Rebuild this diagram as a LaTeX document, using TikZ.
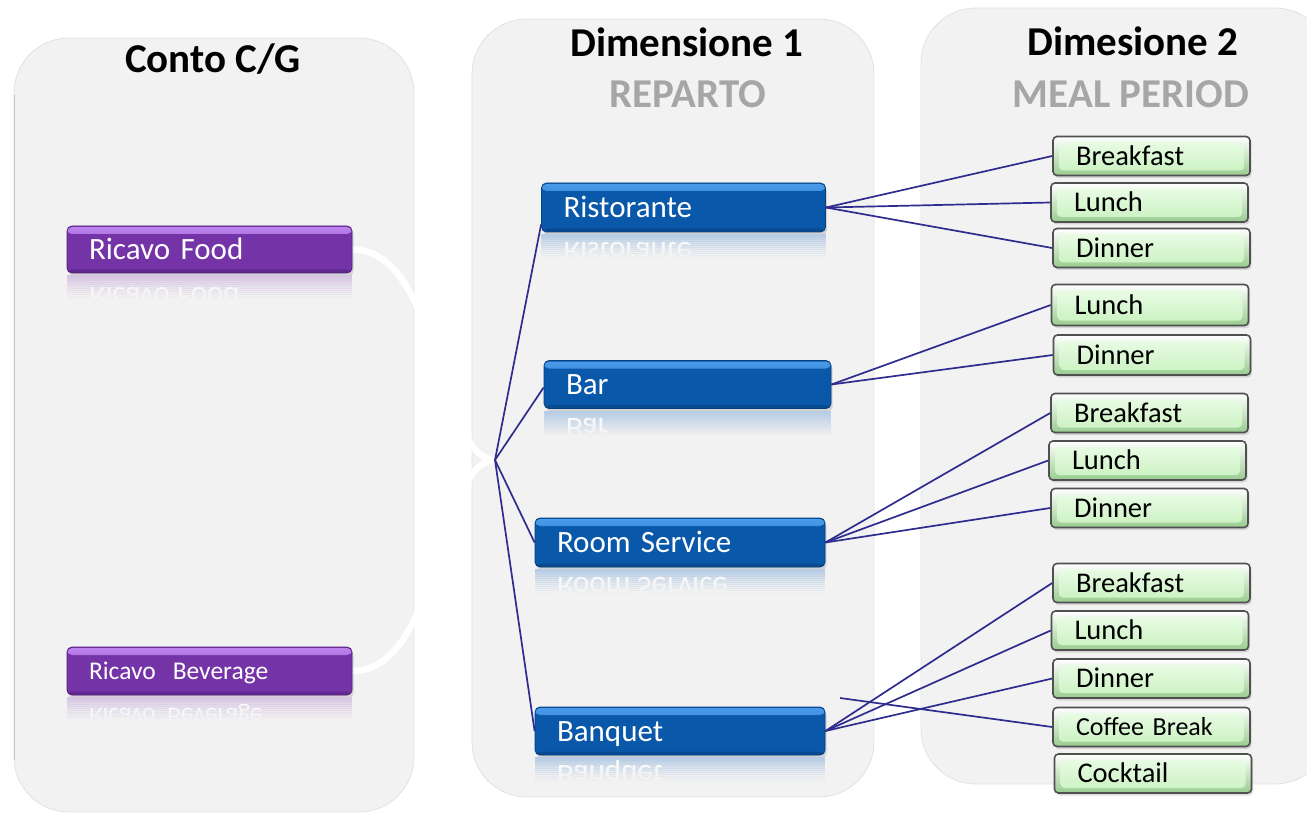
\documentclass[tikz,border=0pt]{standalone}
\usepackage{fontspec}
\setmainfont{Carlito}
\usetikzlibrary{shadows,calc}

\definecolor{panelgray}{HTML}{F2F2F2}
\definecolor{panelline}{HTML}{E2E2E2}
\definecolor{paneledge}{HTML}{C4C4C4}
\definecolor{linkblue}{HTML}{2E2C8E}
\definecolor{headgray}{HTML}{A6A6A6}
\definecolor{boxblue}{HTML}{0A58A9}
\definecolor{boxbluehi}{HTML}{4C9CEC}
\definecolor{boxbluelo}{HTML}{06417F}
\definecolor{reflblue}{HTML}{B6CCE4}
\definecolor{boxpurple}{HTML}{7434A8}
\definecolor{boxpurplehi}{HTML}{BE85F0}
\definecolor{boxpurplelo}{HTML}{55207F}
\definecolor{reflpurple}{HTML}{D6C6E2}
\definecolor{boxgreen}{HTML}{C8F1BF}
\definecolor{boxgreenhi}{HTML}{EEFDEA}
\definecolor{boxgreenlo}{HTML}{98CC8E}
\definecolor{boxgreenline}{HTML}{505050}

\pgfdeclarelayer{panels}
\pgfdeclarelayer{links}
\pgfsetlayers{panels,links,main}

% mirrored, fading copy of a box below it: node, text, font size, tint, gap
\newcommand\mkreflect[5]{%
  \begin{scope}
    \clip ([yshift=-2pt]#1.south west) rectangle ([yshift=-31pt]#1.south east);
    \fill[#4] ([yshift=-2pt]#1.south west) rectangle ([yshift=-31pt]#1.south east);
    \node[font=\fontsize{#3}{#3}\selectfont, text=white, anchor=base west,
          yscale=-1, inner sep=0pt] at ([xshift=22pt,yshift=-#5]#1.south west) {#2};
    \foreach \k in {0,...,12}{
      \pgfmathsetmacro\op{\k/12}
      \pgfmathsetmacro\ya{-(2+2*\k)}
      \pgfmathsetmacro\yb{-(4.4+2*\k)}
      \fill[panelgray, opacity=\op] ([yshift=\ya pt]#1.south west) rectangle ([yshift=\yb pt]#1.south east);
    }
    \fill[panelgray] ([yshift=-26pt]#1.south west) rectangle ([yshift=-33pt]#1.south east);
  \end{scope}}

\tikzset{
  panel/.style={fill=panelgray, draw=panelline, line width=0.8pt, rounded corners=55pt},
  headblack/.style={font=\bfseries\fontsize{41}{44}\selectfont, anchor=base, inner sep=0pt},
  headgrey/.style={headblack, text=headgray},
  barbox/.style={rounded corners=5pt, align=left, inner xsep=22pt, inner ysep=0pt,
    text depth=0pt, anchor=center,
    drop shadow={shadow xshift=1.5pt, shadow yshift=-3pt, opacity=0.28}},
  bluebox/.style={barbox, fill=boxblue, draw=boxbluelo, line width=0.8pt, text=white,
    font=\fontsize{31}{36}\selectfont, text height=20pt,
    path picture={
      \shade[top color=boxbluehi, bottom color=boxblue]
        ([yshift=-1pt]path picture bounding box.north west) rectangle ([yshift=-8pt]path picture bounding box.north east);
      \fill[boxbluelo, opacity=0.6]
        ([yshift=3.5pt]path picture bounding box.south west) rectangle (path picture bounding box.south east);}},
  purplebox/.style={barbox, fill=boxpurple, draw=boxpurplelo, line width=0.8pt, text=white,
    font=\fontsize{31}{36}\selectfont, text height=20pt,
    path picture={
      \shade[top color=boxpurplehi, bottom color=boxpurple]
        ([yshift=-1pt]path picture bounding box.north west) rectangle ([yshift=-8pt]path picture bounding box.north east);
      \fill[boxpurplelo, opacity=0.6]
        ([yshift=3.5pt]path picture bounding box.south west) rectangle (path picture bounding box.south east);}},
  greenbox/.style={rounded corners=4pt, align=left, inner xsep=23pt, inner ysep=0pt,
    text depth=0pt, text height=18.4pt, text width=151pt, minimum height=39pt,
    draw=boxgreenline, line width=1.6pt, top color=white, bottom color=boxgreenlo,
    text=black, font=\fontsize{28.5}{32}\selectfont,
    drop shadow={shadow xshift=1.5pt, shadow yshift=-2.5pt, opacity=0.25},
    path picture={
      \shade[top color=boxgreenhi, bottom color=boxgreen]
        ([xshift=6pt,yshift=-6pt]path picture bounding box.north west) rectangle ([xshift=-6pt,yshift=5pt]path picture bounding box.south east);}},
  link/.style={draw=linkblue, line width=1.7pt},
  brace/.style={draw=white, line width=6.5pt}
}

\begin{document}
\begin{tikzpicture}[x=1pt, y=-1pt]
\useasboundingbox (0,0) rectangle (1307,813);

% the three column panels
\begin{pgfonlayer}{panels}
  \path[panel] (14,38) rectangle (414,812);
  \path[panel] (472,19) rectangle (874,797);
  \path[panel] (921,8) rectangle (1330,784);
  \draw[paneledge, line width=1pt] (14,95) -- (14,760);
\end{pgfonlayer}

% column titles
\node[headblack] (t1) at (213,72.5) {Conto C/G};
\node[headblack] (t2) at (687,57) {Dimensione 1};
\node[headgrey]  (s2) at (688,108) {REPARTO};
\node[headblack] (t3) at (1133,56) {Dimesione 2};
\node[headgrey]  (s3) at (1131,108) {MEAL PERIOD};

% general ledger accounts
\node[purplebox, text width=241pt, minimum height=47pt] (food) at (209.5,249.5) {Ricavo Food};
\node[purplebox, text width=241pt, minimum height=48pt,
      font=\fontsize{25.5}{30}\selectfont, text height=16.4pt] (bev) at (209.5,671) {Ricavo\ \ Beverage};

% departments
\node[bluebox, text width=240pt, minimum height=49pt] (ris)  at (683.5,207.5) {Ristorante};
\node[bluebox, text width=243pt, minimum height=48pt] (bar)  at (687.5,384.5) {Bar};
\node[bluebox, text width=246pt, minimum height=49pt] (rs)   at (680,542.5) {Room Service};
\node[bluebox, text width=246pt, minimum height=48pt] (banq) at (680,731) {Banquet};

% meal periods
\node[greenbox] (g1bf) at (1151.5,156)   {Breakfast};
\node[greenbox] (g1lu) at (1149.5,202.5) {Lunch};
\node[greenbox] (g1di) at (1151.5,248)   {Dinner};
\node[greenbox, minimum height=41pt] (g2lu) at (1150,305) {Lunch};
\node[greenbox, minimum height=40pt] (g2di) at (1152,355) {Dinner};
\node[greenbox] (g3bf) at (1149.5,413)   {Breakfast};
\node[greenbox] (g3lu) at (1147.5,460.5) {Lunch};
\node[greenbox] (g3di) at (1149.5,508)   {Dinner};
\node[greenbox] (g4bf) at (1151.5,583)   {Breakfast};
\node[greenbox] (g4lu) at (1150,630.5)   {Lunch};
\node[greenbox] (g4di) at (1151.5,678.5) {Dinner};
\node[greenbox, font=\fontsize{26}{30}\selectfont, text height=16.8pt] (g4cb) at (1151.5,727) {Coffee Break};
\node[greenbox] (g4ck) at (1153,773.5)   {Cocktail};

% reflections under the glossy bars
\mkreflect{food}{Ricavo Food}{31}{reflpurple}{14pt}
\mkreflect{bev}{Ricavo\ \ Beverage}{25.5}{reflpurple}{13pt}
\mkreflect{ris}{Ristorante}{31}{reflblue}{10pt}
\mkreflect{bar}{Bar}{31}{reflblue}{10pt}
\mkreflect{rs}{Room Service}{31}{reflblue}{10pt}
\mkreflect{banq}{Banquet}{31}{reflblue}{10pt}

% white brace joining the two accounts
\coordinate (hub) at (495,460);
\begin{pgfonlayer}{links}
  \draw[brace] (food.east) .. controls (440,249.5) and (440,460) .. (hub);
  \draw[brace] (bev.east) .. controls (440,671) and (440,460) .. (hub);
\end{pgfonlayer}

% accounts to departments
\draw[link] (hub) -- ([yshift=-17pt]ris.west);
\draw[link] (hub) -- ([yshift=-3pt]bar.west);
\draw[link] (hub) -- (rs.west);
\draw[link] (hub) -- (banq.west);

% departments to meal periods
\draw[link] (ris.east) -- (g1bf.west);
\draw[link] (ris.east) -- (g1lu.west);
\draw[link] (ris.east) -- (g1di.west);
\draw[link] (bar.east) -- (g2lu.west);
\draw[link] (bar.east) -- (g2di.west);
\draw[link] (rs.east) -- (g3bf.west);
\draw[link] (rs.east) -- (g3lu.west);
\draw[link] (rs.east) -- (g3di.west);
\draw[link] (banq.east) -- (g4bf.west);
\draw[link] (banq.east) -- (g4lu.west);
\draw[link] (banq.east) -- (g4di.west);
\coordinate (cbfrom) at (840,698);
\draw[link] (cbfrom) -- (g4cb.west);
\end{tikzpicture}
\end{document}
